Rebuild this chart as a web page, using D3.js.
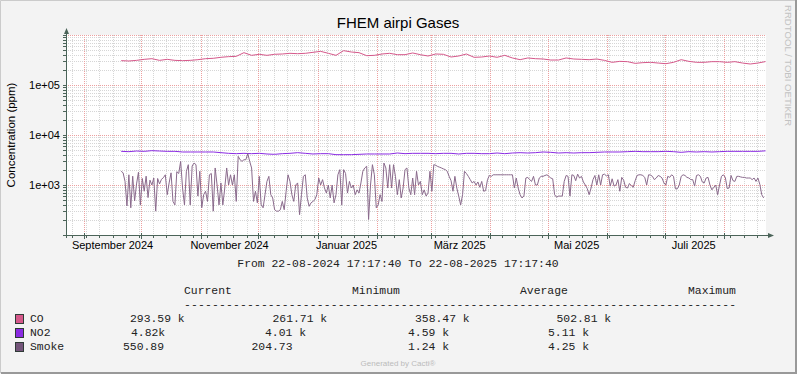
<!DOCTYPE html>
<html>
<head>
<meta charset="utf-8">
<script src="https://cdn.jsdelivr.net/npm/d3@7"></script>
<style>
body { margin: 0; background: #f3f3f3; }
svg { display: block; }
</style>
</head>
<body>
<div class="view"></div>
<script>
var width = 797;
var height = 374;

var plot = {
    left: 66,
    right: 766,
    top: 35,
    bottom: 235
};

// time range of the graph
var rangeStart = new Date(2024, 7, 22, 17, 17, 40);
var rangeEnd = new Date(2025, 7, 22, 17, 17, 40);

var monthNames = ["Januar", "Februar", "März", "April", "Mai", "Juni", "Juli",
    "August", "September", "Oktober", "November", "Dezember"];
var yTicks = [1e3, 1e4, 1e5];

// Smoke, daily averages (ppm) from 20-09-2024
var smokeStart = new Date(2024, 8, 20, 12);
var smokeStepDays = 1;
var smoke = [
    1880, 1750, 1180, 380, 1600, 350, 1500, 480, 1050, 1800, 400, 1350, 750, 1500, 560, 1250,
    1000, 1380, 300, 1350, 1050, 1300, 1400, 1600, 640, 1100, 1750, 470, 400, 1850, 1700,
    2970, 870, 400, 1880, 2550, 400, 2400, 2750, 2550, 600, 1880, 350, 640, 750, 470, 1600,
    1700, 300, 2190, 1000, 400, 1100, 400, 870, 2190, 1000, 1600, 1000, 1600, 470, 3740, 3200,
    2970, 3200, 3200, 4250, 2970, 2190, 470, 750, 440, 1490, 400, 350, 640, 1180, 1490, 640,
    550, 320, 300, 300, 320, 470, 320, 750, 1600, 1180, 640, 470, 1000, 1100, 255,
    640, 1490, 1600, 550, 375, 440, 470, 510, 640, 1380, 1000, 1280, 870, 690, 1000, 550,
    1000, 440, 640, 1600, 2030, 400, 2030, 1700, 690, 1180, 870, 1000, 640, 800, 690, 1100,
    1880, 2190, 2370, 205, 1000, 2550, 1600, 350, 400, 640, 470, 2750, 2190, 870, 2550, 870,
    2550, 1490, 640, 1280, 550, 870, 2030, 2190, 870, 640, 1380, 640, 1880, 1000, 1180,
    640, 800, 600, 690, 1880, 750, 2550, 2480, 2350, 2270, 2190, 2100, 2030, 1880, 1490, 1220,
    750, 1490, 870, 600, 400, 640, 1880, 1700, 1490, 1280, 1100, 1180, 1000, 1150, 900, 1180,
    750, 770, 1280, 1550, 1490, 1600, 1600, 1600, 1600, 1600, 1600, 1600, 1600, 1600, 1600,
    1600, 870, 1380, 870, 640, 550, 600, 1380, 1420, 1280, 1180, 1490, 1000, 1000, 1380,
    1490, 1490, 1550, 1600, 1490, 1380, 1330, 640, 570, 600, 600, 600, 1180, 1550, 1490, 600,
    1600, 1550, 1220, 1650, 1380, 1490, 1150, 1000, 850, 640, 870, 1280, 1550, 1000, 1600,
    1000, 1600, 1650, 1520, 1600, 950, 1330, 950, 1000, 1280, 750, 1420, 1250, 900, 870, 1070,
    970, 900, 1220, 1550, 1600, 1600, 1550, 1420, 1000, 1600, 1580, 1490, 1280, 1380, 1550, 1490,
    1380, 1100, 1000, 1490, 1420, 1600, 1490, 840, 840, 1000, 1490, 1600, 1550, 1420, 1380,
    1280, 1280, 950, 1550, 1600, 1490, 1150, 1100, 1380, 1420, 1000, 800, 900, 1000, 640, 1000,
    1490, 1600, 1420, 850, 870, 1550, 1220, 1180, 1490, 1490, 1450, 1420, 1420, 1380, 1380,
    1380, 1280, 1380, 1180, 1380, 1030, 640, 551
];

// CO and NO2, 4-day averages (ppm) from 20-09-2024
var gasStart = new Date(2024, 8, 20, 12);
var gasStepDays = 4;
var co = [
    307e3, 302e3, 311e3, 326e3, 336e3, 311e3, 326e3, 311e3,
    307e3, 311e3, 321e3, 336e3, 342e3, 358e3, 369e3, 374e3, 443e3, 392e3, 411e3, 392e3,
    411e3, 417e3, 430e3, 423e3,
    430e3, 450e3, 471e3, 430e3, 392e3, 486e3, 457e3, 443e3, 386e3, 392e3, 417e3, 430e3,
    404e3, 404e3, 437e3, 404e3,
    380e3, 417e3, 411e3, 363e3, 380e3, 417e3, 358e3, 363e3, 380e3, 358e3, 392e3, 347e3,
    321e3, 347e3, 336e3,
    331e3, 316e3, 316e3, 347e3, 331e3, 326e3, 321e3, 331e3, 311e3, 284e3, 297e3, 293e3,
    271e3, 280e3, 284e3, 275e3,
    267e3, 284e3, 321e3, 297e3, 284e3, 284e3, 293e3, 293e3, 284e3, 293e3, 275e3, 263e3,
    275e3, 294e3
];
var no2 = [
    4714, 4642, 4786, 4714, 4860, 4786, 4714, 4714,
    4571, 4571, 4571, 4571, 4571, 4433, 4299, 4233, 4299, 4233, 4299, 4169, 4105, 4233, 4299, 4433,
    4299, 4169, 4233, 4233, 4044, 4044, 4044, 4105, 4169, 4169, 4169, 4169, 4365, 4233, 4299, 4299,
    4299, 4233, 4299, 4299, 4169, 4299, 4299, 4233, 4233, 4365, 4233, 4365, 4433, 4365, 4433,
    4571, 4501, 4365, 4433, 4365, 4433, 4433, 4501, 4571, 4571, 4571, 4642, 4714, 4642, 4642, 4642,
    4714, 4642, 4501, 4642, 4571, 4642, 4571, 4642, 4714, 4714, 4714, 4714, 4714, 4820
];

// legend table
var legendNames = ["CO", "NO2", "Smoke"];
var curText = ["293.59 k", "4.82k", "550.89"];
var minText = ["261.71 k", "4.01 k", "204.73"];
var avgText = ["358.47 k", "4.59 k", "1.24 k"];
var maxText = ["502.81 k", "5.11 k", "4.25 k"];
var headers = ["Current", "Minimum", "Average", "Maximum"];

var lineColors = ["#d5588a", "#8a2be2", "#8a6a8c"];
var swatchColors = ["#d5588a", "#8a2be2", "#74557a"];
var axisColor = "#4b6459";

var svg = d3.select(".view")
    .append("svg")
    .attr("width", width)
    .attr("height", height);

svg.append("rect")
    .attr("width", width)
    .attr("height", height)
    .attr("fill", "#f3f3f3");

// 3d border
svg.append("path").attr("d", "M0.5,373 V0.5 H796").attr("fill", "none").attr("stroke", "#cbcbcb");
svg.append("path").attr("d", "M1,373 H796 V0").attr("fill", "none").attr("stroke", "#999").attr("stroke-width", 2);

svg.append("rect")
    .attr("x", plot.left)
    .attr("y", plot.top)
    .attr("width", plot.right - plot.left)
    .attr("height", plot.bottom - plot.top)
    .attr("fill", "#fff");

var locale = d3.timeFormatLocale({
    dateTime: "%A, der %e. %B %Y, %X",
    date: "%d.%m.%Y",
    time: "%H:%M:%S",
    periods: ["AM", "PM"],
    days: ["Sonntag", "Montag", "Dienstag", "Mittwoch", "Donnerstag", "Freitag", "Samstag"],
    shortDays: ["So", "Mo", "Di", "Mi", "Do", "Fr", "Sa"],
    months: monthNames,
    shortMonths: monthNames.map(function (m) { return m.slice(0, 3); })
});
var fmt = locale.format("%B %Y");

var x = d3.scaleTime()
    .domain([rangeStart, rangeEnd])
    .range([plot.left, plot.right]);

var y = d3.scaleLog()
    .domain([100, 1e6])
    .range([plot.bottom, plot.top]);

// grid
var grid = svg.append("g").attr("shape-rendering", "crispEdges");

var minorY = [];
[100, 1e3, 1e4, 1e5].forEach(function (dec) {
    for (var k = 2; k <= 9; k++) minorY.push(dec * k);
});
var majorY = [1e3, 1e4, 1e5, 1e6];
var weeks = d3.timeMonday.range(rangeStart, rangeEnd);
var months = d3.timeMonth.range(rangeStart, rangeEnd);

grid.selectAll(".minor-y")
    .data(minorY)
    .enter().append("line")
    .attr("x1", plot.left).attr("x2", plot.right)
    .attr("y1", function (d) { return Math.round(y(d)) + 0.5; })
    .attr("y2", function (d) { return Math.round(y(d)) + 0.5; })
    .attr("stroke", "#d6d6d6")
    .attr("stroke-dasharray", "1,1");

grid.selectAll(".minor-x")
    .data(weeks)
    .enter().append("line")
    .attr("y1", plot.top).attr("y2", plot.bottom)
    .attr("x1", function (d) { return Math.round(x(d)) + 0.5; })
    .attr("x2", function (d) { return Math.round(x(d)) + 0.5; })
    .attr("stroke", "#d6d6d6")
    .attr("stroke-dasharray", "1,1");

grid.selectAll(".major-y")
    .data(majorY)
    .enter().append("line")
    .attr("x1", plot.left).attr("x2", plot.right)
    .attr("y1", function (d) { return Math.round(y(d)) + 0.5; })
    .attr("y2", function (d) { return Math.round(y(d)) + 0.5; })
    .attr("stroke", "#eda0a0")
    .attr("stroke-dasharray", "1,1");

grid.selectAll(".major-x")
    .data(months)
    .enter().append("line")
    .attr("y1", plot.top).attr("y2", plot.bottom)
    .attr("x1", function (d) { return Math.round(x(d)) + 0.5; })
    .attr("x2", function (d) { return Math.round(x(d)) + 0.5; })
    .attr("stroke", "#eda0a0")
    .attr("stroke-dasharray", "1,1");

// series
function series(values, start, step) {
    return values.map(function (v, i) {
        return { date: d3.timeDay.offset(start, i * step), v: v };
    });
}

var line = d3.line()
    .x(function (d) { return x(d.date); })
    .y(function (d) { return y(d.v); });

var allSeries = [
    series(co, gasStart, gasStepDays),
    series(no2, gasStart, gasStepDays),
    series(smoke, smokeStart, smokeStepDays)
];

svg.append("g")
    .selectAll("path")
    .data(allSeries)
    .enter().append("path")
    .attr("d", line)
    .attr("fill", "none")
    .attr("stroke", function (d, i) { return lineColors[i]; })
    .attr("stroke-width", 1);

// axes
var axes = svg.append("g").attr("shape-rendering", "crispEdges");

axes.selectAll(".wtick")
    .data(weeks)
    .enter().append("line")
    .attr("x1", function (d) { return Math.round(x(d)) + 0.5; })
    .attr("x2", function (d) { return Math.round(x(d)) + 0.5; })
    .attr("y1", plot.bottom).attr("y2", plot.bottom + 3)
    .attr("stroke", axisColor);

axes.selectAll(".mtick")
    .data(months)
    .enter().append("line")
    .attr("x1", function (d) { return Math.round(x(d)) + 0.5; })
    .attr("x2", function (d) { return Math.round(x(d)) + 0.5; })
    .attr("y1", plot.bottom - 2).attr("y2", plot.bottom + 4)
    .attr("stroke", axisColor);

axes.selectAll(".ytick")
    .data(minorY.concat(majorY))
    .enter().append("line")
    .attr("x1", plot.left - 3).attr("x2", plot.left)
    .attr("y1", function (d) { return Math.round(y(d)) + 0.5; })
    .attr("y2", function (d) { return Math.round(y(d)) + 0.5; })
    .attr("stroke", axisColor);

axes.append("line")
    .attr("x1", plot.left + 0.5).attr("x2", plot.left + 0.5)
    .attr("y1", plot.bottom + 3).attr("y2", plot.top - 2)
    .attr("stroke", axisColor);

axes.append("line")
    .attr("x1", plot.left - 3).attr("x2", plot.right + 3)
    .attr("y1", plot.bottom + 0.5).attr("y2", plot.bottom + 0.5)
    .attr("stroke", axisColor);

svg.append("path")
    .attr("d", "M" + (plot.left - 2) + "," + (plot.top - 1) + " L" + (plot.left + 0.5) + "," + (plot.top - 7) +
        " L" + (plot.left + 3) + "," + (plot.top - 1) + " Z")
    .attr("fill", axisColor);

svg.append("path")
    .attr("d", "M" + (plot.right + 2) + "," + (plot.bottom - 2) + " L" + (plot.right + 8) + "," + (plot.bottom + 0.5) +
        " L" + (plot.right + 2) + "," + (plot.bottom + 3) + " Z")
    .attr("fill", axisColor);

// labels
var labelMonths = d3.timeMonth.every(2).range(rangeStart, rangeEnd);

svg.append("g")
    .selectAll("text")
    .data(labelMonths)
    .enter().append("text")
    .attr("x", function (d) { return x(d3.timeDay.offset(d, 15)); })
    .attr("y", 249)
    .attr("text-anchor", "middle")
    .attr("font-family", "Liberation Sans, Arial, sans-serif")
    .attr("font-size", 11)
    .attr("fill", "#000")
    .text(function (d) { return fmt(d); });

svg.append("g")
    .selectAll("text")
    .data(yTicks)
    .enter().append("text")
    .attr("x", plot.left - 6)
    .attr("y", function (d) { return y(d) + 4; })
    .attr("text-anchor", "end")
    .attr("font-family", "Liberation Sans, Arial, sans-serif")
    .attr("font-size", 11)
    .attr("fill", "#000")
    .text(function (d) { return d3.format(".0e")(d).replace("e+", "e+0"); });

svg.append("text")
    .attr("x", 398)
    .attr("y", 28)
    .attr("text-anchor", "middle")
    .attr("font-family", "Liberation Sans, Arial, sans-serif")
    .attr("font-size", 15)
    .attr("fill", "#000")
    .text("FHEM airpi Gases");

svg.append("text")
    .attr("transform", "translate(15," + ((plot.top + plot.bottom) / 2) + ") rotate(-90)")
    .attr("text-anchor", "middle")
    .attr("font-family", "Liberation Sans, Arial, sans-serif")
    .attr("font-size", 11.5)
    .attr("fill", "#000")
    .text("Concentration (ppm)");

svg.append("text")
    .attr("transform", "translate(784.5,5) rotate(90)")
    .attr("font-family", "Liberation Sans, Arial, sans-serif")
    .attr("font-size", 9.6)
    .attr("fill", "#c2c2c2")
    .text("RRDTOOL / TOBI OETIKER");

// legend
var mono = "Liberation Mono, Courier New, monospace";
var legend = svg.append("g")
    .attr("font-family", mono)
    .attr("font-size", 11.4)
    .attr("fill", "#222");

legend.append("text")
    .attr("x", 398)
    .attr("y", 267)
    .attr("text-anchor", "middle")
    .text("From " + d3.timeFormat("%d-%m-%Y %H:%M:%S")(rangeStart) + " To " + d3.timeFormat("%d-%m-%Y %H:%M:%S")(rangeEnd));

var headerX = [184, 352, 520, 688];
legend.selectAll(".hdr")
    .data(headers)
    .enter().append("text")
    .attr("x", function (d, i) { return headerX[i]; })
    .attr("y", 294)
    .text(function (d) { return d; });

legend.append("text")
    .attr("x", 184)
    .attr("y", 307.5)
    .attr("textLength", 552)
    .text(d3.range(79).map(function () { return "-"; }).join(""));

var colX = [
    [130, 131, 123],
    [272.5, 265, 251.5],
    [415, 408, 408],
    [556.5, 548, 548]
];
var cols = [curText, minText, avgText, maxText];

legendNames.forEach(function (name, i) {
    var yy = 322 + i * 14;
    svg.append("rect")
        .attr("x", 15.5)
        .attr("y", yy - 7.5)
        .attr("width", 8)
        .attr("height", 9)
        .attr("fill", swatchColors[i])
        .attr("stroke", "#2f3a36");
    legend.append("text")
        .attr("x", 30)
        .attr("y", yy)
        .text(name);
    cols.forEach(function (col, c) {
        legend.append("text")
            .attr("x", colX[c][i])
            .attr("y", yy)
            .text(col[i]);
    });
});

svg.append("text")
    .attr("x", 398)
    .attr("y", 366)
    .attr("text-anchor", "middle")
    .attr("font-family", "Liberation Sans, Arial, sans-serif")
    .attr("font-size", 8)
    .attr("fill", "#bbb")
    .text("Generated by Cacti®");
</script>
</body>
</html>
